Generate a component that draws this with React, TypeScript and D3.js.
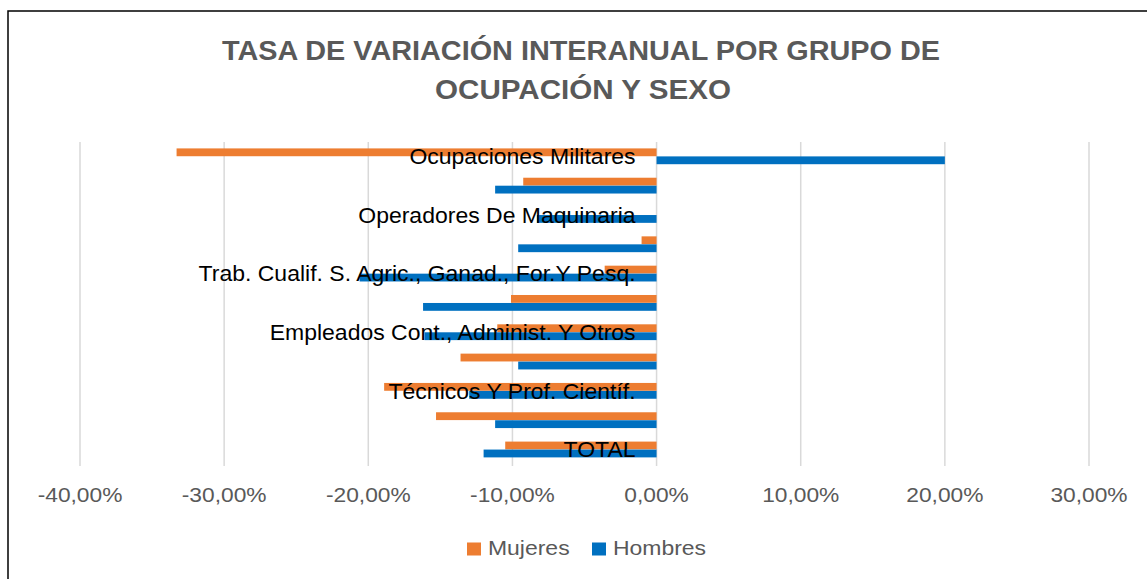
import React from 'react';
import * as d3 from 'd3';

const categories = [
  'Ocupaciones Militares',
  'Ocupaciones Elementales',
  'Operadores De Maquinaria',
  'Artesanos Y Trab. Cualif. Ind.',
  'Trab. Cualif. S. Agric., Ganad., For.Y Pesq.',
  'Trab. Restaur., Pers., Protec. Y Vend.',
  'Empleados Cont., Administ. Y Otros',
  'Técnicos Y Prof. Apoyo',
  'Técnicos Y Prof. Científ.',
  'Directores Y Gerentes',
  'TOTAL',
];
// labels Excel actually shows (every other category)
const shownLabels = [0, 2, 4, 6, 8, 10];

const mujeres = [-0.333, -0.0925, 0, -0.0104, -0.036, -0.101, -0.1105, -0.136, -0.189, -0.153, -0.105];
const hombres = [0.2, -0.112, -0.083, -0.096, -0.206, -0.162, -0.161, -0.096, -0.13, -0.112, -0.12];

const xTicks = [-0.4, -0.3, -0.2, -0.1, 0, 0.1, 0.2, 0.3];
const seriesNames = ['Mujeres', 'Hombres'];
const colors = ['#ED7D31', '#0070C0'];

const W = 1147;
const H = 579;

const fmt = (v: number) => (v * 100).toFixed(2).replace('.', ',') + '%';

export default function App() {
  const x = d3.scaleLinear().domain([-0.4, 0.3]).range([80, 1089]);
  const y = d3.scaleBand<string>().domain(categories).range([141.5, 464]);
  const inner = d3.scaleBand<string>().domain(seriesNames).range([y.bandwidth() * 0.23, y.bandwidth() * 0.78]).padding(0.02);
  const series = [mujeres, hombres];
  const font = '"Liberation Sans", Arial, sans-serif';

  return (
    <svg width={W} height={H} style={{ position: 'absolute', left: 0, top: 0, background: '#fff' }}>
      <rect x={8} y={11} width={1150} height={600} fill="#fff" stroke="#000" strokeWidth={1.5} />
      <g fontFamily={font} fontWeight="bold" fill="#595959" fontSize={27} textAnchor="middle">
        <text x={581} y={60} textLength={718} lengthAdjust="spacingAndGlyphs">TASA DE VARIACIÓN INTERANUAL POR GRUPO DE</text>
        <text x={583} y={99} textLength={296} lengthAdjust="spacingAndGlyphs">OCUPACIÓN Y SEXO</text>
      </g>
      {xTicks.map((t) => (
        <line key={t} x1={x(t)} x2={x(t)} y1={142} y2={466} stroke="#d9d9d9" strokeWidth={1.5} />
      ))}
      {categories.map((c, i) => (
        <g key={c}>
          {series.map((s, k) => {
            const v = s[i];
            return (
              <rect
                key={k}
                x={Math.min(x(0), x(v))}
                y={(y(c) as number) + (inner(seriesNames[k]) as number)}
                width={Math.abs(x(v) - x(0))}
                height={inner.bandwidth()}
                fill={colors[k]}
              />
            );
          })}
        </g>
      ))}
      <g fontFamily={font} fontSize={22} fill="#000" textAnchor="end">
        {shownLabels.map((i) => (
          <text
            key={i}
            transform={`translate(${x(0) - 21},${(y(categories[i]) as number) + y.bandwidth() / 2 + 8}) scale(1.045,1)`}
          >
            {categories[i]}
          </text>
        ))}
      </g>
      <g fontFamily={font} fontSize={20.5} fill="#595959" textAnchor="middle">
        {xTicks.map((t) => (
          <text key={t} transform={`translate(${x(t)},502) scale(1.11,1)`}>
            {fmt(t)}
          </text>
        ))}
      </g>
      <g fontFamily={font} fontSize={20.5} fill="#595959">
        {seriesNames.map((n, k) => {
          const lx = k === 0 ? 467 : 592;
          return (
            <g key={n}>
              <rect x={lx} y={542.5} width={14} height={13} fill={colors[k]} />
              <text transform={`translate(${lx + 21},555) scale(1.12,1)`}>{n}</text>
            </g>
          );
        })}
      </g>
    </svg>
  );
}
